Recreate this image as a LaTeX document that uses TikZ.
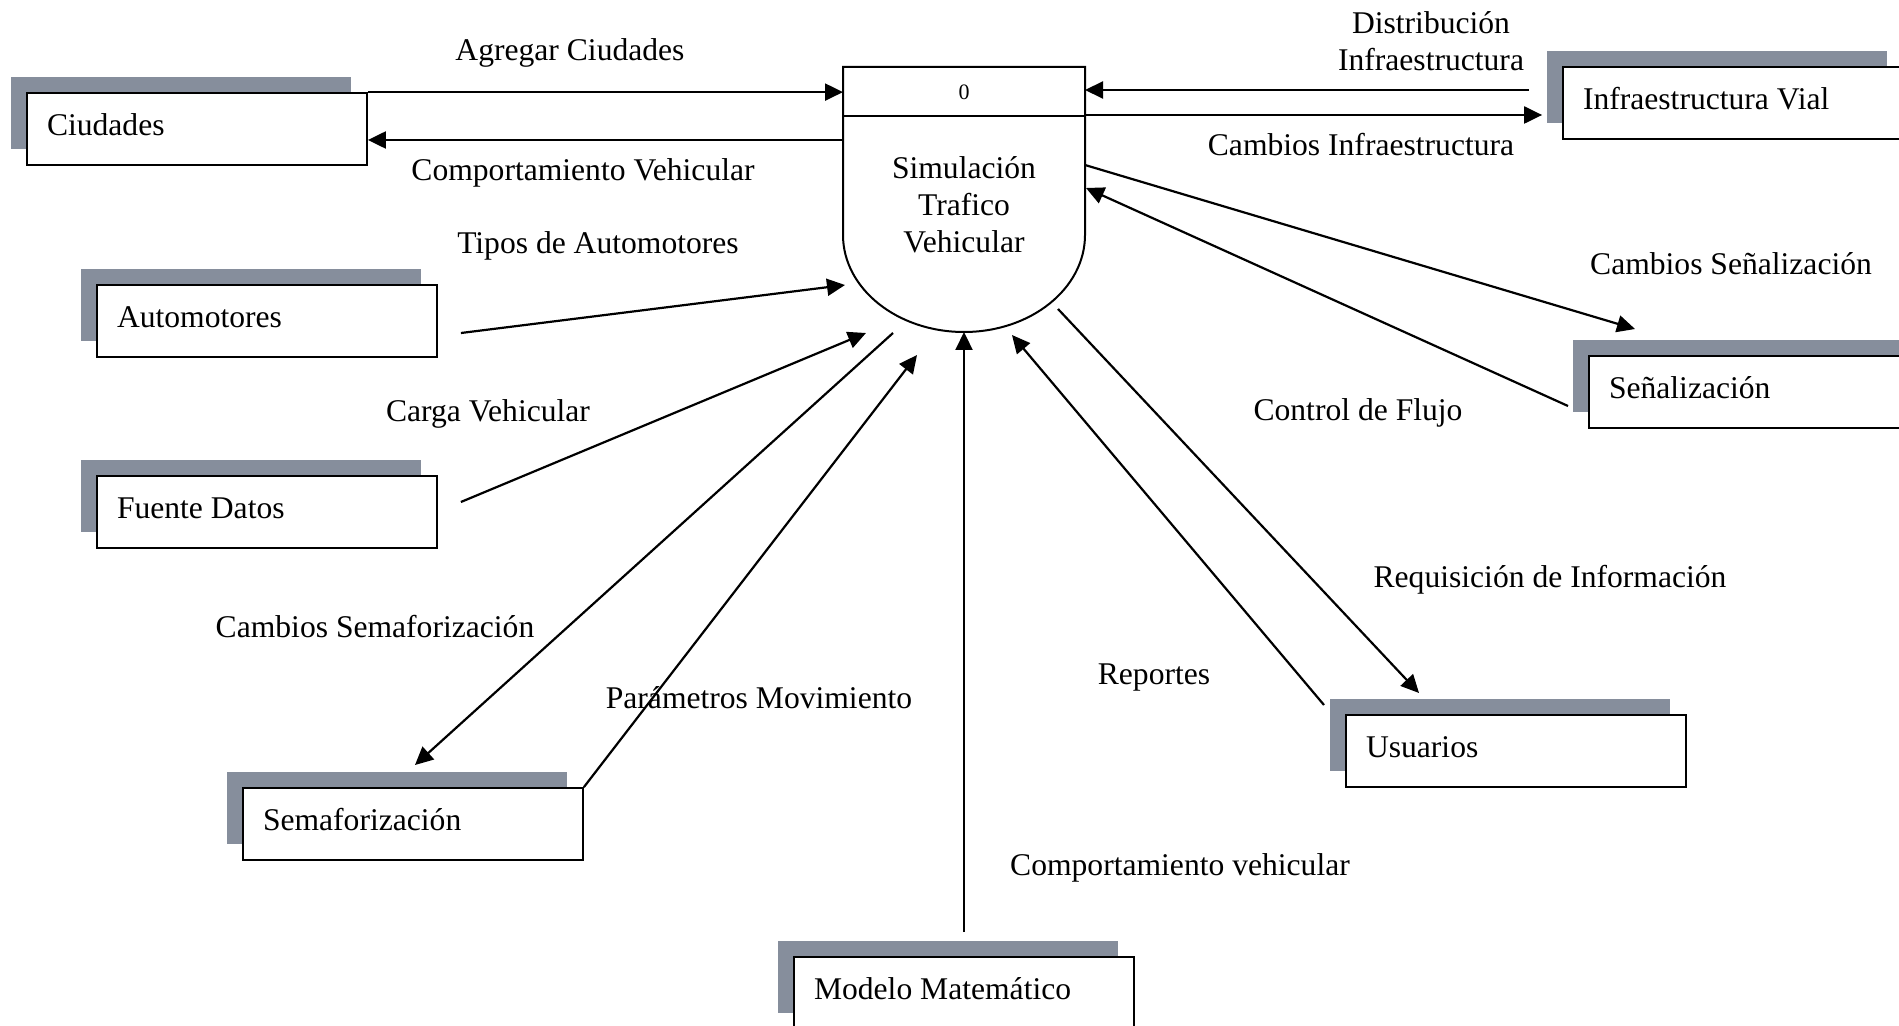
\documentclass[tikz,border=0pt]{standalone}
\usepackage{fontspec}
\setmainfont{Liberation Serif}
\usetikzlibrary{arrows.meta}
\usetikzlibrary{calc}
\usetikzlibrary{shadows}
\definecolor{sombra}{RGB}{134,142,156}
\newcommand{\drawflujo}{\draw[-{Triangle[length=9pt,width=8.5pt]}, line width=1.1pt]}
\tikzset{
    entidad/.style={draw, fill=white, line width=0.9pt, text width=150pt,
        inner xsep=10pt, inner ysep=0pt, minimum height=36pt, align=flush left,
        text height=0.82em, text depth=0.18em,
        general shadow={fill=sombra, shadow xshift=-8pt, shadow yshift=8pt}}
}

\begin{document}
\begin{tikzpicture}[x=0.5pt, y=-0.5pt, font=\fontsize{15.8}{18.5}\selectfont]
    \useasboundingbox (0,0) rectangle (1899,1026);

    % Entidades externas
    \node[entidad] (ciu) at (197,129) {Ciudades};
    \node[entidad] (auto) at (267,321) {Automotores};
    \node[entidad] (fuente) at (267,512) {Fuente Datos};
    \node[entidad] (sem) at (413,824) {Semaforización};
    \node[entidad] (mod) at (964,993) {Modelo Matemático};
    \node[entidad] (usu) at (1516,751) {Usuarios};
    \node[entidad] (sen) at (1759,392) {Señalización};
    \node[entidad] (infra) at (1733,103) {Infraestructura Vial};

    % Proceso
    \node[minimum width=121pt, minimum height=132.5pt, inner sep=0pt, outer sep=0pt] (proc) at (964,199.5) {};
    \draw[line width=1pt] (proc.north west) -- (proc.north east) -- ($(proc.south east)+(0,-97)$)
        arc[start angle=0, end angle=180, x radius=121, y radius=97] -- cycle;
    \draw[line width=1pt] ($(proc.north west)+(0,49)$) -- ($(proc.north east)+(0,49)$);
    \node[font=\fontsize{11}{13}\selectfont] (num) at (964,92.5) {0};
    \node[align=center] (titulo) at (964,205) {Simulación\\Trafico\\Vehicular};

    % Puntos de llegada
    \coordinate (pAuto) at (845,285);
    \coordinate (pCarga) at (866,333);
    \coordinate (pSem) at (893,333);
    \coordinate (pParam) at (917,355);
    \coordinate (pRep) at (1012,335);
    \coordinate (pReq) at (1058,309);
    \coordinate (pSenA) at (1085,165);
    \coordinate (pSenB) at (1086,188);
    \coordinate (eSem) at (415,765);
    \coordinate (eRep) at (1324,705);
    \coordinate (eReq) at (1419,693);
    \coordinate (eSenA) at (1635,329);
    \coordinate (eSenB) at (1568,406);

    % Flujos
    \drawflujo (ciu.north east) -- (ciu.north east -| proc.west);
    \drawflujo ($(ciu.east -| proc.west)+(0,11)$) -- ($(ciu.east)+(0,11)$);
    \drawflujo ($(infra.west)+(-33,-13)$) -- ($(infra.west -| proc.east)+(0,-13)$);
    \drawflujo ($(infra.west -| proc.east)+(0,12)$) -- ($(infra.west)+(-20,12)$);
    \drawflujo ($(auto.east)+(23,12)$) -- (pAuto);
    \drawflujo ($(fuente.east)+(23,-10)$) -- (pCarga);
    \drawflujo (pSem) -- (eSem);
    \drawflujo (sem.north east) -- (pParam);
    \drawflujo ($(mod.north)+(0,-24)$) -- (proc.south);
    \drawflujo (eRep) -- (pRep);
    \drawflujo (pReq) -- (eReq);
    \drawflujo (pSenA) -- (eSenA);
    \drawflujo (eSenB) -- (pSenB);

    % Etiquetas
    \node (lAgr) at (570,53) {Agregar Ciudades};
    \node (lComp) at (583,173) {Comportamiento Vehicular};
    \node[align=center] (lDist) at (1431,41) {Distribución\\Infraestructura};
    \node (lCInf) at (1361,145) {Cambios Infraestructura};
    \node (lTipos) at (598,246) {Tipos de Automotores};
    \node (lCarga) at (488,414) {Carga Vehicular};
    \node (lCSem) at (375,627) {Cambios Semaforización};
    \node (lParam) at (759,698) {Parámetros Movimiento};
    \node (lRep) at (1154,678) {Reportes};
    \node (lCompV) at (1180,868) {Comportamiento vehicular};
    \node (lReq) at (1550,580) {Requisición de Información};
    \node (lCSen) at (1731,264) {Cambios Señalización};
    \node (lCtrl) at (1358,413) {Control de Flujo};
\end{tikzpicture}
\end{document}
